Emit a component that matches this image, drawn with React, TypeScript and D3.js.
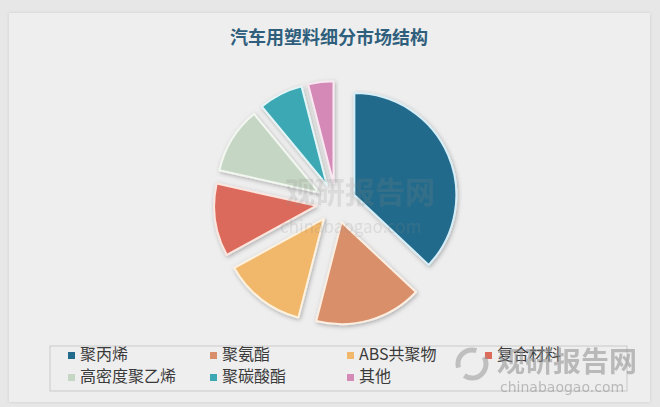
import React from "react";
import * as d3 from "d3";

const title = "汽车用塑料细分市场结构";
const categories = ["聚丙烯", "聚氨酯", "ABS共聚物", "复合材料", "高密度聚乙烯", "聚碳酸酯", "其他"];
const shares = [37, 17, 13, 11.5, 10.5, 7, 4];
const colors = ["#236b8b", "#d98f6b", "#f1b76a", "#dc6b5b", "#c6d6c5", "#3ba8b4", "#d589b6"];
const strokes = ["#d6eef8", "#fbeee2", "#fdf1df", "#fbe6df", "#f2f7f0", "#e3f5f6", "#f8e8f1"];

const W = 660;
const H = 407;
const cx = 336;
const cy = 203;
const R = 102;
const explode = 20;

export default function App() {
  const pie = d3.pie<number>().sort(null).value((d) => d).startAngle(0).endAngle(2 * Math.PI);
  const arcs = pie(shares);
  const arc = d3.arc<d3.PieArcDatum<number>>().innerRadius(0).outerRadius(R);

  const legendCols = [68, 210, 347, 485];
  const legendRows = [356, 378];

  return (
    <div style={{ position: "fixed", left: 0, top: 0, width: W, height: H }}>
      <svg width={W} height={H} viewBox={`0 0 ${W} ${H}`} style={{ display: "block" }}>
        <defs>
          <filter id="sh" x="-20%" y="-20%" width="140%" height="140%">
            <feDropShadow dx="1" dy="1.5" stdDeviation="2" floodColor="#000" floodOpacity="0.28" />
          </filter>
          <filter id="panel" x="-5%" y="-5%" width="110%" height="110%">
            <feDropShadow dx="0" dy="0" stdDeviation="1.5" floodColor="#000" floodOpacity="0.12" />
          </filter>
        </defs>
        <rect x={0} y={0} width={W} height={H} fill="#e7e7e7" />
        <rect x={9} y={13} width={641} height={389} fill="#eeeeee" filter="url(#panel)" />
        <text
          x={329}
          y={44}
          textAnchor="middle"
          fontFamily="'Noto Sans CJK SC', sans-serif"
          fontWeight="bold"
          fontSize={18}
          fill="#2f5f7c"
        >
          {title}
        </text>
        <g>
          {arcs.map((a, i) => {
            const mid = (a.startAngle + a.endAngle) / 2;
            const dx = Math.sin(mid) * explode;
            const dy = -Math.cos(mid) * explode;
            return (
              <path
                key={i}
                d={arc(a) || ""}
                transform={`translate(${cx + dx},${cy + dy})`}
                fill={colors[i]}
                stroke={strokes[i]}
                strokeWidth={2}
                strokeLinejoin="round"
                filter="url(#sh)"
              />
            );
          })}
        </g>
        <g opacity={0.18} fontFamily="'Noto Sans CJK SC', sans-serif" fill="#888">
          <text x={285} y={203} fontSize={30} fontWeight="bold">观研报告网</text>
          <text x={280} y={233} fontSize={17}>chinabaogao.com</text>
        </g>
        <rect x={50} y={346} width={577} height={45} fill="none" stroke="#c9c9c9" strokeWidth={1} />
        {categories.map((c, i) => {
          const col = i % 4;
          const row = Math.floor(i / 4);
          const x = legendCols[col];
          const y = legendRows[row];
          return (
            <g key={c}>
              <rect x={x} y={y - 4} width={7} height={7} fill={colors[i]} />
              <text
                x={x + 12}
                y={y}
                dominantBaseline="middle"
                fontFamily="'Noto Sans CJK SC', sans-serif"
                fontSize={16}
                fill="#3a3a3a"
              >
                {c}
              </text>
            </g>
          );
        })}
        <g opacity={0.55}>
          <circle cx={472} cy={364} r={14} fill="none" stroke="#9a9a9a" strokeWidth={5} strokeDasharray="30 10" />
          <text x={497} y={372} fontFamily="'Noto Sans CJK SC', sans-serif" fontWeight="bold" fontSize={28} fill="#8e8e8e">
            观研报告网
          </text>
          <text x={500} y={392} fontFamily="'DejaVu Sans', sans-serif" fontSize={14} fill="#8e8e8e">
            chinabaogao.com
          </text>
        </g>
      </svg>
    </div>
  );
}
